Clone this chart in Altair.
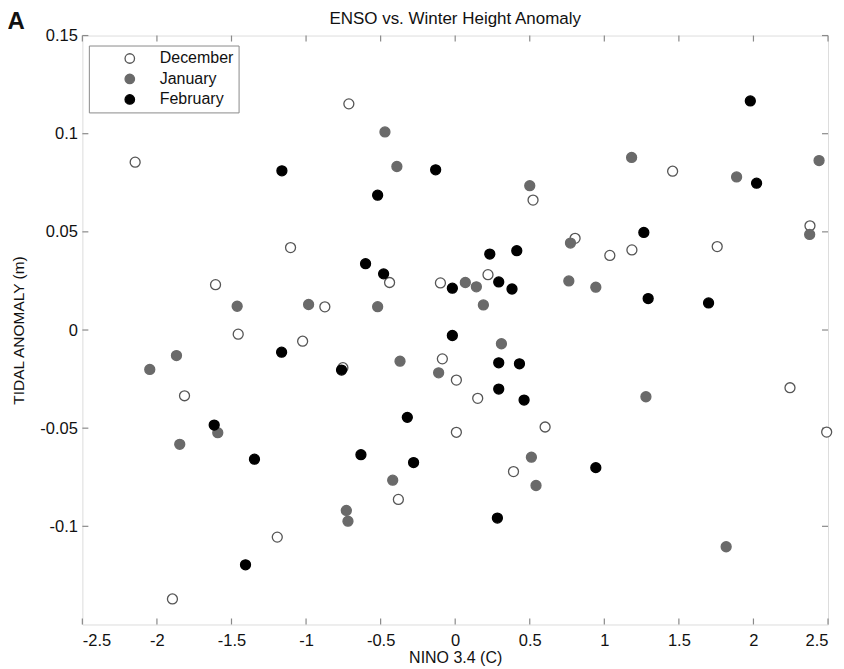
import altair as alt
import pandas as pd

# ---- data ----
months = ["December", "January", "February"]

dec_x = [-2.146, -1.104, -1.607, -0.874, -0.713, 0.522, 0.804, -0.440, -0.099, 0.220,
         2.379, 1.037, 1.185, 1.757, 1.458, -1.455, -1.023, -1.815, -1.193, -1.896,
         -0.753, -0.086, 0.008, 0.151, 0.603, 0.008, 0.391, -0.381, 2.245, 2.491]
dec_y = [0.0855, 0.0420, 0.0231, 0.0118, 0.1152, 0.0662, 0.0467, 0.0242, 0.0240, 0.0282,
         0.0531, 0.0380, 0.0408, 0.0425, 0.0809, -0.0021, -0.0057, -0.0335, -0.1055, -0.1370,
         -0.0192, -0.0147, -0.0255, -0.0348, -0.0494, -0.0521, -0.0721, -0.0863, -0.0294, -0.0520]

jan_x = [-1.462, -0.983, -0.471, -0.391, 0.500, 0.773, 0.068, 0.142, 0.762, 0.189,
         -0.520, 2.440, 1.183, 1.887, 2.377, 0.943, -1.869, -2.048, -1.592, -1.847,
         0.310, -0.370, -0.111, 0.511, -0.419, 0.542, -0.730, -0.719, 1.279, 1.817]
jan_y = [0.0121, 0.0130, 0.1009, 0.0833, 0.0735, 0.0443, 0.0242, 0.0220, 0.0250, 0.0128,
         0.0119, 0.0863, 0.0879, 0.0780, 0.0487, 0.0218, -0.0130, -0.0201, -0.0523, -0.0582,
         -0.0070, -0.0159, -0.0218, -0.0648, -0.0765, -0.0792, -0.0919, -0.0974, -0.0340, -0.1104]

feb_x = [-1.162, -0.131, -0.520, -0.601, 0.232, 0.413, -0.480, -0.019, 0.292, 0.381,
         1.979, 2.021, 1.265, 1.294, 1.699, -1.164, -1.616, -1.346, -1.406, -0.762,
         -0.019, 0.292, 0.431, 0.292, 0.462, -0.321, -0.632, -0.279, 0.283, 0.943]
feb_y = [0.0811, 0.0816, 0.0687, 0.0338, 0.0387, 0.0404, 0.0286, 0.0213, 0.0245, 0.0209,
         0.1167, 0.0748, 0.0497, 0.0160, 0.0138, -0.0113, -0.0484, -0.0658, -0.1196, -0.0204,
         -0.0028, -0.0167, -0.0172, -0.0301, -0.0357, -0.0445, -0.0635, -0.0675, -0.0958, -0.0701]

x_ticks = [-2.5, -2, -1.5, -1, -0.5, 0, 0.5, 1, 1.5, 2, 2.5]
y_ticks = [0.15, 0.1, 0.05, 0, -0.05, -0.1]

fills = ["#ffffff", "#6a6a6a", "#000000"]
strokes = ["#555555", "#6a6a6a", "#000000"]

W, H = 747, 590
FONT = "Liberation Sans"
GRAY = "#8a8a8a"

rows = []
for m, xs, ys in zip(months, [dec_x, jan_x, feb_x], [dec_y, jan_y, feb_y]):
    for a, b in zip(xs, ys):
        rows.append({"month": m, "nino": a, "anom": b})
df = pd.DataFrame(rows)

xscale = alt.Scale(domain=[-2.5, 2.5], nice=False, zero=False)
yscale = alt.Scale(domain=[-0.15, 0.15], nice=False, zero=False)

legend = alt.Legend(
    title=None, orient="none", legendX=6.5, legendY=10,
    strokeColor=GRAY, fillColor="white", padding=5,
    symbolOffset=28, labelOffset=22, rowPadding=4.5,
    labelFontSize=16, labelFont=FONT, labelColor="#111111",
    symbolSize=90, symbolStrokeWidth=1.3, symbolType="circle",
    cornerRadius=0,
)

points = alt.Chart(df).mark_point(filled=True, size=100, strokeWidth=1.3, opacity=1).encode(
    x=alt.X("nino:Q", scale=xscale, title="NINO 3.4 (C)",
            axis=alt.Axis(values=x_ticks, tickSize=0, domain=False, grid=False,
                          labelExpr="'' + datum.value", labelFontSize=16.5, labelFont=FONT,
                          labelColor="#111111", labelPadding=8,
                          titleFontSize=16, titleFont=FONT, titleFontWeight="normal",
                          titleColor="#111111", titleX=W / 2, titleY=33,
                          titleBaseline="middle", titleAlign="center")),
    y=alt.Y("anom:Q", scale=yscale, title="TIDAL ANOMALY (m)",
            axis=alt.Axis(values=y_ticks, tickSize=0, domain=False, grid=False,
                          labelExpr="'' + datum.value", labelFontSize=16.5, labelFont=FONT,
                          labelColor="#111111", labelPadding=5,
                          titleFontSize=15.5, titleFont=FONT, titleFontWeight="normal",
                          titleColor="#111111", titleX=-64, titleY=H / 2,
                          titleAlign="center", titleBaseline="middle")),
    fill=alt.Fill("month:N", scale=alt.Scale(domain=months, range=fills), legend=legend),
    stroke=alt.Stroke("month:N", scale=alt.Scale(domain=months, range=strokes), legend=legend),
    order=alt.Order("order:Q"),
).transform_calculate(
    order="indexof(['December','January','February'], datum.month)"
)

xt = pd.DataFrame({"t": x_ticks})
yt = pd.DataFrame({"t": y_ticks})
TL = 6
tick_style = dict(color=GRAY, strokeWidth=1.2)
bottom_ticks = alt.Chart(xt).mark_rule(**tick_style).encode(
    x=alt.X("t:Q", scale=xscale), y=alt.value(H), y2=alt.value(H - TL))
top_ticks = alt.Chart(xt).mark_rule(**tick_style).encode(
    x=alt.X("t:Q", scale=xscale), y=alt.value(0), y2=alt.value(TL))
left_ticks = alt.Chart(yt).mark_rule(**tick_style).encode(
    y=alt.Y("t:Q", scale=yscale), x=alt.value(0), x2=alt.value(TL))
right_ticks = alt.Chart(yt).mark_rule(**tick_style).encode(
    y=alt.Y("t:Q", scale=yscale), x=alt.value(W), x2=alt.value(W - TL))

panel = alt.Chart(pd.DataFrame({"label": ["A"]})).mark_text(
    font=FONT, fontSize=24, fontWeight="bold", align="left", baseline="alphabetic", color="#111111"
).encode(text="label:N", x=alt.value(-75), y=alt.value(-7))

chart = alt.layer(
    bottom_ticks, top_ticks, left_ticks, right_ticks, points, panel
).properties(
    width=W, height=H,
    title=alt.TitleParams("ENSO vs. Winter Height Anomaly", fontSize=17, font=FONT,
                          fontWeight="normal", color="#111111", anchor="middle",
                          offset=0, baseline="bottom", dy=35),
    autosize="none",
    padding={"left": 74.5, "top": 27, "right": 8, "bottom": 44},
).configure_view(
    stroke=GRAY, strokeWidth=1.5
).configure(background="white")

chart.save("out.html", embed_options={"renderer": "svg", "actions": False})
